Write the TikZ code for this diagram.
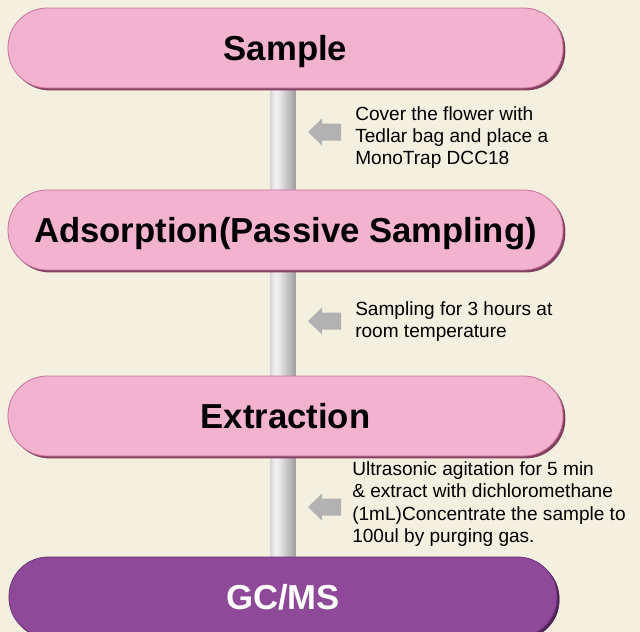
\documentclass[tikz,border=0pt]{standalone}
\usepackage{fontspec}
\setmainfont{Liberation Sans}
\usetikzlibrary{calc}
\definecolor{bgcol}{RGB}{244,240,224}
\definecolor{pinkfill}{RGB}{243,178,206}
\definecolor{pinkdark}{RGB}{130,65,95}
\definecolor{pinkedge}{RGB}{200,115,155}
\definecolor{purplefill}{RGB}{142,74,152}
\definecolor{purpledark}{RGB}{80,35,90}
\definecolor{purpleedge}{RGB}{110,50,120}
\definecolor{arrowgray}{RGB}{178,178,178}
\definecolor{poleA}{RGB}{135,135,135}
\definecolor{poleB}{RGB}{238,238,238}
\definecolor{poleD}{RGB}{170,170,170}
\definecolor{poleC}{RGB}{110,110,110}
\pgfdeclarehorizontalshading{poleshade}{100bp}{color(0bp)=(poleA); color(33bp)=(poleB); color(40bp)=(poleB); color(70bp)=(poleD); color(100bp)=(poleC)}
\pgfdeclarelayer{back}
\pgfsetlayers{back,main}
\tikzset{
  stepbox/.style={rounded corners=29.5pt, minimum width=416.25pt, minimum height=60pt,
    fill=pinkfill, draw=pinkedge, line width=0.6pt,
    preaction={fill=pinkdark, transform canvas={xshift=1.8pt,yshift=-1.8pt}},
    font=\fontsize{26}{30}\selectfont\bfseries, text=black, inner sep=0pt,
    text depth=0pt, text height=18.7pt},
  finalbox/.style={stepbox, minimum width=411pt, fill=purplefill, draw=purpleedge,
    preaction={fill=purpledark, transform canvas={xshift=1.8pt,yshift=-1.8pt}}, text=white},
  note/.style={anchor=west, align=left, inner sep=0pt,
    font=\fontsize{14.3}{16.6}\selectfont},
  leftarrow/.style={fill=arrowgray, draw=none}
}
\begin{document}
\begin{tikzpicture}[x=0.75pt,y=-0.75pt]
\begin{pgfonlayer}{back}
\fill[bgcol] (0,0) rectangle (640,632);
\end{pgfonlayer}
\useasboundingbox (0,0) rectangle (640,632);
\begin{scope}
\clip (0,0) rectangle (640,632);
\node[stepbox] (s) at (285.5,48) {Sample};
\node[stepbox] (a) at (285.5,230) {Adsorption(Passive Sampling)};
\node[stepbox] (e) at (285.5,416) {Extraction};
\node[finalbox] (g) at (283,597) {GC/MS};
\end{scope}
\begin{pgfonlayer}{back}
\shade[shading=poleshade] (270,0 |- s.south) rectangle (295.5,0 |- g.north);
\end{pgfonlayer}
% arrows
\coordinate (t1) at (308,132);
\coordinate (t2) at (308,321);
\coordinate (t3) at (308,507);
\foreach \t in {t1,t2,t3}{
  \fill[leftarrow] (\t) -- ++(14,-13.5) -- ++(0,5) -- ++(19,0) -- ++(0,17) -- ++(-19,0) -- ++(0,5) -- cycle;
}
\node[note] (n1) at (355,137.5) {Cover the flower with\\Tedlar bag and place a\\MonoTrap DCC18};
\node[note] (n2) at (355,322) {Sampling for 3 hours at\\room temperature};
\node[note] (n3) at (352,504) {Ultrasonic agitation for 5 min\\\& extract with dichloromethane\\(1mL)Concentrate the sample to\\100ul by purging gas.};
\end{tikzpicture}
\end{document}
